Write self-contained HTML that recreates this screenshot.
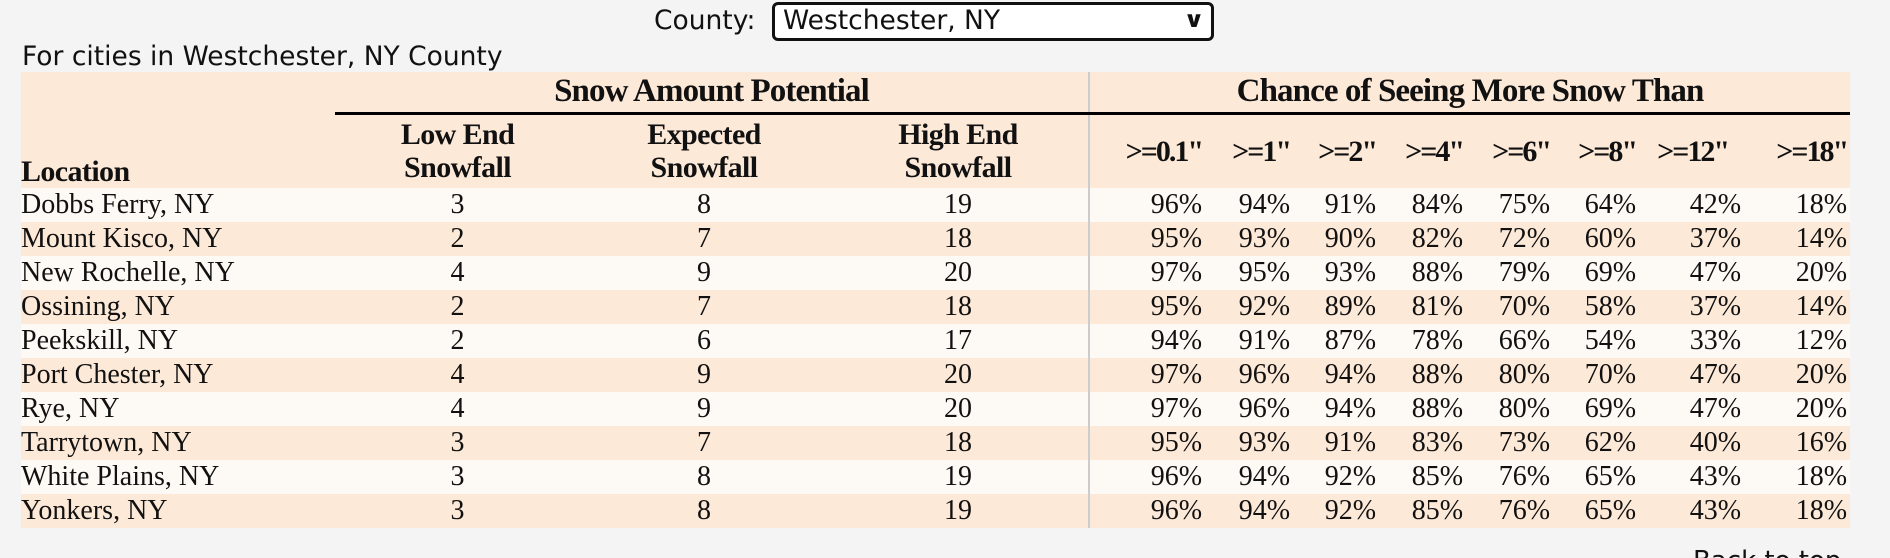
<!DOCTYPE html>
<html><head><meta charset="utf-8"><style>
html,body{margin:0;padding:0;background:#f4f4f4;width:1890px;height:558px;overflow:hidden;position:relative}
.sans{font-family:"DejaVu Sans","Liberation Sans",sans-serif;color:#111}
#county{position:absolute;left:654px;top:5px;font-size:26.5px}
#sel{position:absolute;left:772px;top:2px;width:436px;height:33px;border:3px solid #111;border-radius:6px;background:#fff;font-size:26.5px;box-sizing:content-box}
#sel span{position:absolute;left:8px;top:0px}
#sel i{position:absolute;right:8px;top:3px;font-style:normal;font-size:22px;font-weight:bold;transform:scaleX(1.2)}
#for{position:absolute;left:22px;top:41px;font-size:26.5px}
table{position:absolute;left:21px;top:72px;border-collapse:collapse;table-layout:fixed;width:1829px;font-family:"Liberation Serif",serif;font-size:28px;color:#111}
td,th{padding:0;white-space:nowrap}
thead tr{background:#fde9d8}
th{font-weight:bold;font-size:30px;letter-spacing:-0.6px;line-height:33px}
th.big{font-size:33px;letter-spacing:-0.9px}
tbody tr{height:34px}
tbody tr:nth-child(odd){background:#fdf9f4}
tbody tr:nth-child(even){background:#fde9d8}
.c{text-align:center}
.r{text-align:right;padding-right:3px}
.div{border-left:2px solid #ccc}
th.p{letter-spacing:-2px}
#back{position:absolute;left:1693px;top:546px;font-family:"DejaVu Sans",sans-serif;font-size:26px;color:#111}
</style></head><body>
<div id="county" class="sans">County:</div>
<div id="sel" class="sans"><span>Westchester, NY</span><i>&#8744;</i></div>
<div id="for" class="sans">For cities in Westchester, NY County</div>
<table>
<colgroup><col style="width:314px"><col style="width:245px"><col style="width:248px"><col style="width:261px"><col style="width:116px"><col style="width:88px"><col style="width:86px"><col style="width:87px"><col style="width:87px"><col style="width:86px"><col style="width:105px"><col style="width:106px"></colgroup>
<thead>
<tr style="height:41px"><th></th><th colspan="3" class="c big" style="border-bottom:3px solid #000">Snow Amount Potential</th><th colspan="8" class="c div big" style="border-bottom:3px solid #000">Chance of Seeing More Snow Than</th></tr>
<tr style="height:75px"><th style="text-align:left;vertical-align:bottom;padding-bottom:0px">Location</th><th class="c">Low End<br>Snowfall</th><th class="c">Expected<br>Snowfall</th><th class="c">High End<br>Snowfall</th><th class="r div p">&gt;=0.1"</th><th class="r p">&gt;=1"</th><th class="r p">&gt;=2"</th><th class="r p">&gt;=4"</th><th class="r p">&gt;=6"</th><th class="r p">&gt;=8"</th><th class="r p" style="padding-right:16px">&gt;=12"</th><th class="r p">&gt;=18"</th></tr>
</thead>
<tbody>
<tr><td>Dobbs Ferry, NY</td><td class="c">3</td><td class="c">8</td><td class="c">19</td><td class="r div">96%</td><td class="r">94%</td><td class="r">91%</td><td class="r">84%</td><td class="r">75%</td><td class="r">64%</td><td class="r">42%</td><td class="r">18%</td></tr>
<tr><td>Mount Kisco, NY</td><td class="c">2</td><td class="c">7</td><td class="c">18</td><td class="r div">95%</td><td class="r">93%</td><td class="r">90%</td><td class="r">82%</td><td class="r">72%</td><td class="r">60%</td><td class="r">37%</td><td class="r">14%</td></tr>
<tr><td>New Rochelle, NY</td><td class="c">4</td><td class="c">9</td><td class="c">20</td><td class="r div">97%</td><td class="r">95%</td><td class="r">93%</td><td class="r">88%</td><td class="r">79%</td><td class="r">69%</td><td class="r">47%</td><td class="r">20%</td></tr>
<tr><td>Ossining, NY</td><td class="c">2</td><td class="c">7</td><td class="c">18</td><td class="r div">95%</td><td class="r">92%</td><td class="r">89%</td><td class="r">81%</td><td class="r">70%</td><td class="r">58%</td><td class="r">37%</td><td class="r">14%</td></tr>
<tr><td>Peekskill, NY</td><td class="c">2</td><td class="c">6</td><td class="c">17</td><td class="r div">94%</td><td class="r">91%</td><td class="r">87%</td><td class="r">78%</td><td class="r">66%</td><td class="r">54%</td><td class="r">33%</td><td class="r">12%</td></tr>
<tr><td>Port Chester, NY</td><td class="c">4</td><td class="c">9</td><td class="c">20</td><td class="r div">97%</td><td class="r">96%</td><td class="r">94%</td><td class="r">88%</td><td class="r">80%</td><td class="r">70%</td><td class="r">47%</td><td class="r">20%</td></tr>
<tr><td>Rye, NY</td><td class="c">4</td><td class="c">9</td><td class="c">20</td><td class="r div">97%</td><td class="r">96%</td><td class="r">94%</td><td class="r">88%</td><td class="r">80%</td><td class="r">69%</td><td class="r">47%</td><td class="r">20%</td></tr>
<tr><td>Tarrytown, NY</td><td class="c">3</td><td class="c">7</td><td class="c">18</td><td class="r div">95%</td><td class="r">93%</td><td class="r">91%</td><td class="r">83%</td><td class="r">73%</td><td class="r">62%</td><td class="r">40%</td><td class="r">16%</td></tr>
<tr><td>White Plains, NY</td><td class="c">3</td><td class="c">8</td><td class="c">19</td><td class="r div">96%</td><td class="r">94%</td><td class="r">92%</td><td class="r">85%</td><td class="r">76%</td><td class="r">65%</td><td class="r">43%</td><td class="r">18%</td></tr>
<tr><td>Yonkers, NY</td><td class="c">3</td><td class="c">8</td><td class="c">19</td><td class="r div">96%</td><td class="r">94%</td><td class="r">92%</td><td class="r">85%</td><td class="r">76%</td><td class="r">65%</td><td class="r">43%</td><td class="r">18%</td></tr>
</tbody>
</table>
<div id="back">Back to top</div>
</body></html>
